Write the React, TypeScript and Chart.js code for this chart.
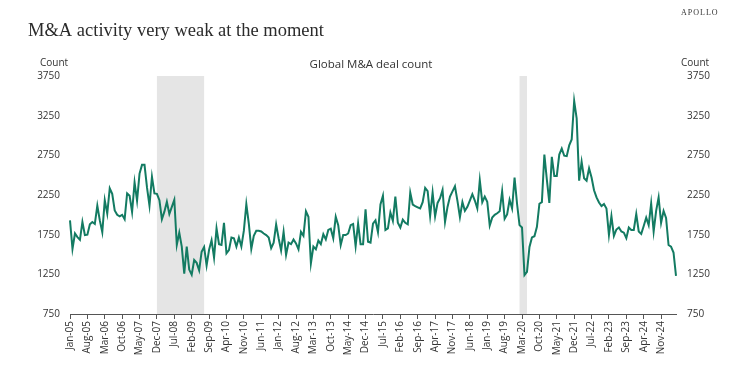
import React, { useEffect, useRef } from 'react';
import { Chart, registerables } from 'chart.js';

Chart.register(...registerables);

// ---------- data ----------
const START_YEAR = 2005;
const MONTH_NAMES = ['Jan', 'Feb', 'Mar', 'Apr', 'May', 'Jun', 'Jul', 'Aug', 'Sep', 'Oct', 'Nov', 'Dec'];

// Global M&A deal count, monthly from Jan-05 to May-25
const dealCount = [
  1930, 1570, 1765, 1720, 1685, 1910, 1745, 1750, 1880, 1910, 1885, 2115,
  1930, 1780, 2185, 2015, 2335, 2265, 2055, 2000, 1980, 2000, 1945, 2270,
  2240, 2035, 2410, 2180, 2520, 2630, 2630, 2345, 2115, 2480, 2270, 2265,
  2185, 1945, 2040, 2165, 2010, 2100, 2190, 1620, 1775, 1600, 1260, 1600,
  1310, 1245, 1430, 1395, 1300, 1535, 1595, 1360, 1560, 1680, 1460, 1830,
  1630, 1620, 1900, 1515, 1555, 1715, 1705, 1600, 1715, 1600, 1800, 2135,
  1890, 1570, 1735, 1800, 1800, 1790, 1765, 1745, 1715, 1580, 1650, 1880,
  1705, 1550, 1785, 1495, 1650, 1630, 1690, 1640, 1565, 1785, 1735, 2045,
  1975, 1390, 1600, 1565, 1675, 1630, 1755, 1690, 1810, 1825, 1705, 1975,
  1870, 1620, 1745, 1745, 1765, 1870, 1885, 1605, 1890, 1630, 1630, 2070,
  1660, 1650, 1890, 1930, 1780, 2130, 2240, 1810, 1830, 2030, 1925, 2230,
  1900, 1840, 1940, 1900, 1880, 2280, 2130, 2110, 2095, 2080, 2160, 2340,
  2300, 1985, 2280, 1980, 2150, 2210, 2315, 1910, 2100, 2230, 2295, 2360,
  2175, 1970, 2160, 2050, 2100, 2180, 2260, 2180, 2080, 2435, 2160, 2230,
  2165, 1865, 1965, 2000, 2020, 2045, 2295, 1950, 2005, 2190, 2080, 2470,
  2140, 1870, 1840, 1240, 1280, 1595, 1715, 1730, 1850, 2140, 2160, 2760,
  2445, 2150, 2730, 2490, 2490, 2760, 2835, 2745, 2740, 2875, 2950, 3435,
  3215, 2430, 2670, 2460, 2430, 2585, 2470, 2310, 2220, 2155, 2110, 2135,
  2080, 1745, 1985, 1735, 1815, 1840, 1790, 1775, 1705, 1840, 1810, 1810,
  2010, 1790, 1760, 1860, 1965, 1870, 2145, 1790, 2050, 2220, 1900, 2050,
  1960, 1620, 1600, 1525, 1230,
];

const categories = dealCount.map(
  (_, i) => `${MONTH_NAMES[i % 12]}-${String((START_YEAR + Math.floor(i / 12)) % 100).padStart(2, '0')}`
);

const yTickValues = [750, 1250, 1750, 2250, 2750, 3250, 3750];
const Y_MIN = 750;
const Y_MAX = 3750;
const X_LABEL_EVERY = 7;

// Recession shading periods (start label, end label)
const recessionStarts = ['Dec-07', 'Feb-20'];
const recessionEnds = ['Jul-09', 'May-20'];

const TITLE = 'M&A activity very weak at the moment';
const CHART_TITLE = 'Global M&A deal count';
const BRAND = 'APOLLO';
const AXIS_TITLE = 'Count';

// ---------- styles ----------
const LINE_COLOR = '#137B62';
const SHADE_COLOR = '#E5E5E5';
const TEXT_COLOR = '#333333';
const SANS = '"Open Sans", "Noto Sans", sans-serif';

const shadingPlugin = {
  id: 'recessionShading',
  beforeDatasetsDraw(chart: any) {
    const { ctx, chartArea, scales } = chart;
    const xs = scales.x;
    ctx.save();
    ctx.fillStyle = SHADE_COLOR;
    recessionStarts.forEach((s, k) => {
      const i1 = categories.indexOf(s);
      const i2 = categories.indexOf(recessionEnds[k]);
      const x1 = xs.getPixelForValue(i1);
      const x2 = xs.getPixelForValue(i2);
      ctx.fillRect(x1, chartArea.top, x2 - x1, chartArea.bottom - chartArea.top);
    });
    ctx.restore();
  },
};

const textPlugin = {
  id: 'texts',
  afterDraw(chart: any) {
    const { ctx } = chart;
    ctx.save();
    ctx.fillStyle = '#2b2b2b';
    ctx.textBaseline = 'alphabetic';
    ctx.textAlign = 'left';
    ctx.font = '18.5px "Liberation Serif", "DejaVu Serif", serif';
    ctx.fillText(TITLE, 28, 36);

    ctx.font = '8px "Liberation Serif", serif';
    (ctx as any).letterSpacing = '1px';
    ctx.fillStyle = '#333333';
    ctx.fillText(BRAND, 681, 15);
    (ctx as any).letterSpacing = '0px';

    ctx.fillStyle = TEXT_COLOR;
    ctx.font = `11.5px ${SANS}`;
    ctx.textAlign = 'center';
    ctx.fillText(CHART_TITLE, 371, 68);

    ctx.font = `10px ${SANS}`;
    ctx.textAlign = 'left';
    ctx.fillText(AXIS_TITLE, 40, 66);
    ctx.fillText(AXIS_TITLE, 681, 66);
    ctx.restore();
  },
};

export default function App() {
  const ref = useRef<HTMLCanvasElement | null>(null);

  useEffect(() => {
    document.body.style.margin = '0';
    if (!ref.current) return;
    const tickFont = { family: SANS, size: 10 };
    const plainNumber = (v: any) => String(v);
    const chart = new Chart(ref.current, {
      type: 'line',
      data: {
        labels: categories,
        datasets: [
          {
            label: CHART_TITLE,
            data: dealCount,
            borderColor: LINE_COLOR,
            borderWidth: 2,
            pointRadius: 0,
            tension: 0,
            fill: false,
            yAxisID: 'y',
          },
        ],
      },
      options: {
        animation: false,
        responsive: false,
        layout: { padding: { top: 76, left: 0, right: 0, bottom: 0 } },
        plugins: {
          legend: { display: false },
          tooltip: { enabled: false },
          title: { display: false },
        },
        scales: {
          x: {
            type: 'category',
            offset: false,
            grid: {
              display: true,
              drawOnChartArea: false,
              drawTicks: true,
              tickLength: 5,
              color: '#555555',
            },
            border: { display: true, color: '#555555', width: 1 },
            ticks: {
              autoSkip: false,
              minRotation: 90,
              maxRotation: 90,
              font: tickFont,
              color: TEXT_COLOR,
              padding: 2,
            },
            afterBuildTicks: (scale: any) => {
              scale.ticks = scale.ticks.filter((t: any) => t.value % X_LABEL_EVERY === 0);
            },
            afterFit: (scale: any) => {
              scale.height = 56;
            },
          },
          y: {
            position: 'left',
            min: Y_MIN,
            max: Y_MAX,
            grid: { display: false, drawTicks: false },
            border: { display: false },
            ticks: { font: tickFont, color: TEXT_COLOR, padding: 10, callback: plainNumber },
            afterBuildTicks: (scale: any) => {
              scale.ticks = yTickValues.map((v) => ({ value: v }));
            },
            afterFit: (scale: any) => {
              scale.width = 70;
            },
          },
          y2: {
            position: 'right',
            min: Y_MIN,
            max: Y_MAX,
            grid: { display: false, drawTicks: false },
            border: { display: false },
            ticks: { font: tickFont, color: TEXT_COLOR, padding: 11, callback: plainNumber },
            afterBuildTicks: (scale: any) => {
              scale.ticks = yTickValues.map((v) => ({ value: v }));
            },
            afterFit: (scale: any) => {
              scale.width = 70;
            },
          },
        },
      },
      plugins: [shadingPlugin, textPlugin],
    });
    return () => chart.destroy();
  }, []);

  return (
    <div style={{ width: 746, height: 370, background: '#ffffff' }}>
      <canvas ref={ref} width={746} height={370} style={{ display: 'block' }} />
    </div>
  );
}
